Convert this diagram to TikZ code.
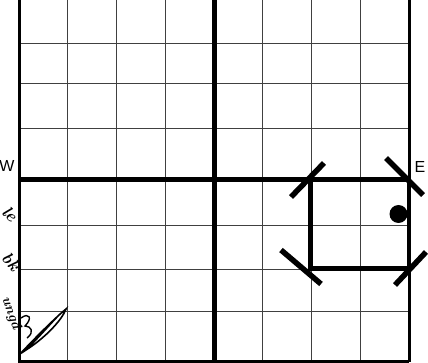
\documentclass[tikz,border=0pt]{standalone}
\usepackage{fontspec}
\newfontfamily\lbl{Liberation Sans}
\tikzset{
  gridline/.style={line width=0.9pt, black!75},
  axis/.style={line width=5pt, black},
  border/.style={line width=3pt, black},
  side/.style={line width=4.2pt, black},
  tick/.style={line width=5.5pt, black},
  hand/.style={font=\fontsize{17}{17}\selectfont\bfseries\itshape, inner sep=0pt},
  dirlabel/.style={font=\lbl\fontsize{16}{16}\selectfont, inner sep=0pt, anchor=base}
}
\begin{document}
\begin{tikzpicture}[x=1pt,y=-1pt]
\useasboundingbox (0,0) rectangle (428,363);
\fill[white] (0,0) rectangle (428,363);
% thin grid
\foreach \x in {67.75,116.5,165.25,262.75,311.5,360.25}
  \draw[gridline] (\x,0) -- (\x,361);
\foreach \y in {43,83,128,225,269,311}
  \draw[gridline] (19,\y) -- (409,\y);
% borders
\draw[border] (19,0) -- (19,361.5) -- (409,361.5);
\draw[border] (409,0) -- (409,361.5);
% axes
\draw[axis] (214,0) -- (214,363);
\draw[axis] (19,180) -- (409,180);
% square path
\draw[side] (310.5,180) -- (310.5,268.5) -- (409,268.5) -- (409,180);
% corner ticks
\draw[tick] (291,197) -- (324,163);
\draw[tick] (386,158) -- (423,195);
\draw[tick] (281,250) -- (321,284);
\draw[tick] (395,285) -- (426,252);
% dot
\fill (398.5,214) circle (9);
% labels
\node[dirlabel] (w) at (7,171.5) {W};
\node[dirlabel] (e) at (420,172.5) {E};
% handwriting fragments
\node[hand, rotate=-45] (h1) at (10,214) {le};
\node[hand, rotate=-50] (h2) at (11,262) {bk};
\node[hand, rotate=-70, font=\fontsize{14}{14}\selectfont\bfseries\itshape] (h3) at (11,313) {ungd};
\draw[line width=1.6pt] (20,354) .. controls (35,338) and (55,318) .. (66,309)
  .. controls (62,320) and (45,338) .. (26,350)
  .. controls (40,336) and (52,322) .. (60,314);
\draw[line width=1.4pt] (21,318) .. controls (29,312) and (33,318) .. (25,326)
  .. controls (31,326) and (35,332) .. (27,338);
\end{tikzpicture}
\end{document}
